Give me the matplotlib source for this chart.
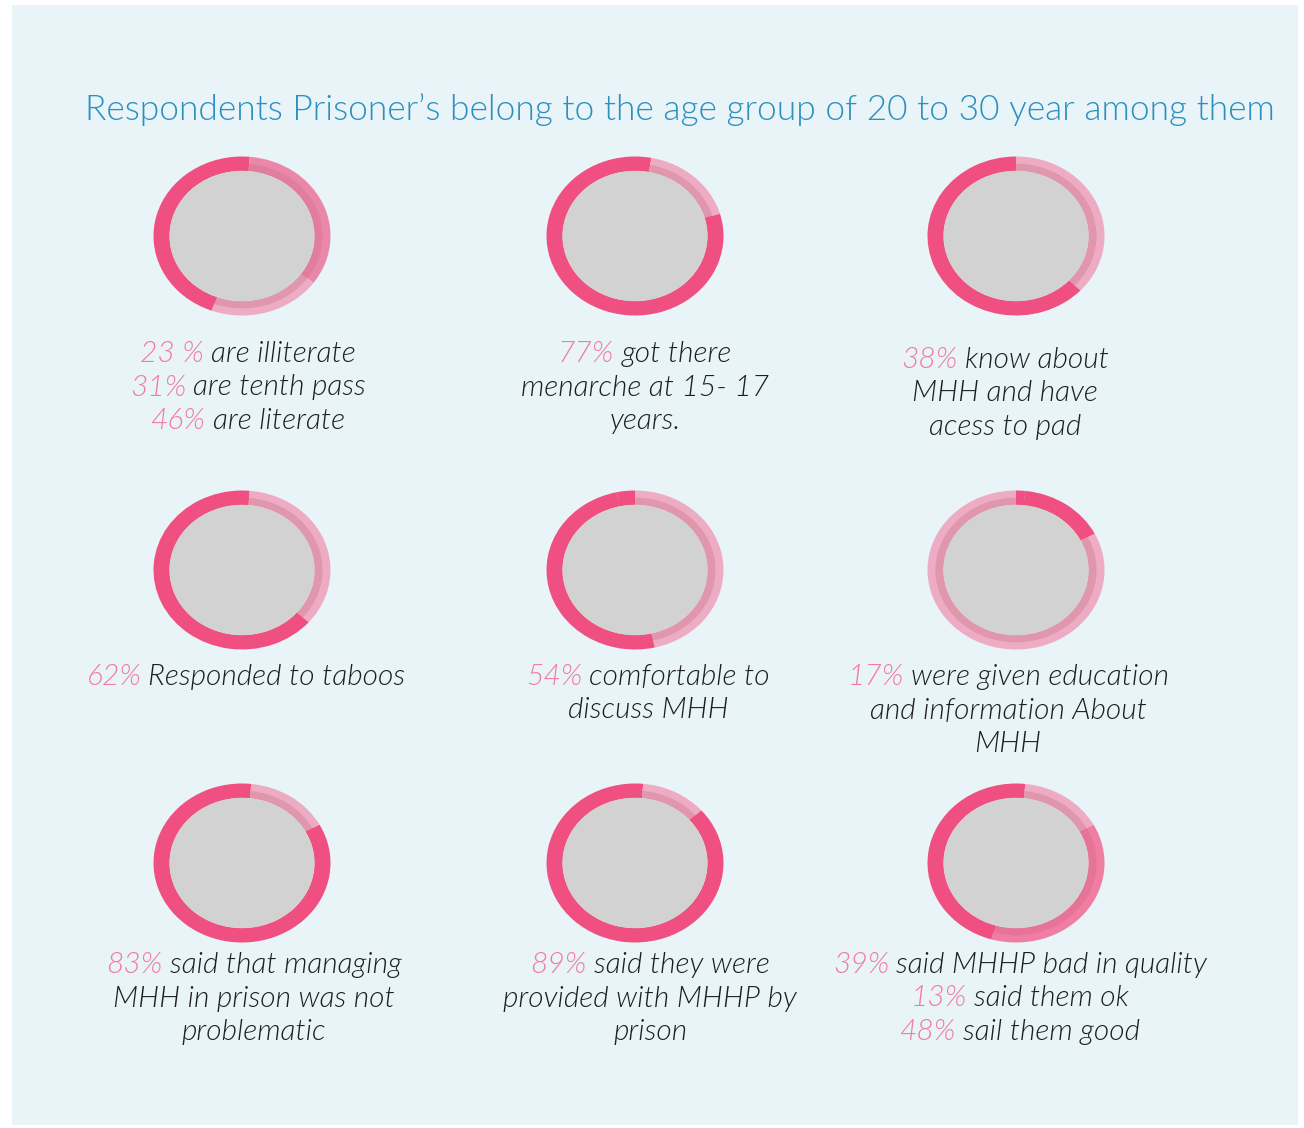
import matplotlib
matplotlib.use("Agg")
import matplotlib.pyplot as plt
from matplotlib.patches import Rectangle, Circle

# slice values, clockwise from 12 o'clock, and the tone of each slice
d1_vals = [1.4, 33.6, 20.6, 44.4]
d1_tone = ["dark", "mid", "light", "dark"]
d2_vals = [3.0, 17.5, 79.5]
d2_tone = ["dark", "light", "dark"]
d3_vals = [37.0, 63.0]
d3_tone = ["light", "dark"]
d4_vals = [1.4, 35.0, 63.6]
d4_tone = ["dark", "light", "dark"]
d5_vals = [46.4, 50.3, 3.3]
d5_tone = ["light", "dark", "dark"]
d6_vals = [1.7, 15.8, 82.5]
d6_tone = ["dark", "dark", "light"]
d7_vals = [1.7, 15.3, 83.0]
d7_tone = ["dark", "light", "dark"]
d8_vals = [1.5, 12.0, 86.5]
d8_tone = ["dark", "light", "dark"]
d9_vals = [1.7, 15.3, 37.5, 45.5]
d9_tone = ["dark", "light", "mid2", "dark"]

all_vals = [d1_vals, d2_vals, d3_vals, d4_vals, d5_vals, d6_vals, d7_vals, d8_vals, d9_vals]
all_tone = [d1_tone, d2_tone, d3_tone, d4_tone, d5_tone, d6_tone, d7_tone, d8_tone, d9_tone]

# caption lines: (pink part, dark part)
captions = [
    [("23 %", "are illiterate"), ("31%", "are tenth pass"), ("46%", "are literate")],
    [("77%", "got there"), ("", "menarche at 15- 17"), ("", "years.")],
    [("38%", "know about"), ("", "MHH and have"), ("", "acess to pad")],
    [("62%", "Responded to taboos")],
    [("54%", "comfortable to"), ("", "discuss MHH")],
    [("17%", "were given education"), ("", "and information About"), ("", "MHH")],
    [("83%", "said that managing"), ("", "MHH in prison was not"), ("", "problematic")],
    [("89%", "said they were"), ("", "provided with MHHP by"), ("", "prison")],
    [("39%", "said MHHP bad in quality"), ("13%", "said them ok"), ("48%", "sail them good")],
]

title = "Respondents Prisoner\u2019s belong to the age group of 20 to 30 year among them"

outer_col = {"dark": "#f05081", "mid": "#eb88aa", "mid2": "#ef7ea2", "light": "#eeabc4"}
inner_col = {"dark": "#f05081", "mid": "#e17e9f", "mid2": "#e67498", "light": "#e097ae"}

W, H = 1304, 1128
fig = plt.figure(figsize=(W / 100, H / 100), dpi=100, facecolor="white")
fig.patches.append(Rectangle((12 / W, 3 / H), 1286 / W, 1120 / H, transform=fig.transFigure,
                             facecolor="#e8f4f8", edgecolor="none", zorder=-5))

fig.text(680 / W, 1 - 110 / H, title, ha="center", va="center", color="#2b8fc0",
         fontsize=25.4, family="Lato", fontweight=300)

col_x = [242, 635, 1016]
row_y = [236, 570, 863]
dw, dh = 177, 159

for i, (vals, tone) in enumerate(zip(all_vals, all_tone)):
    cx, cy = col_x[i % 3], row_y[i // 3]
    ax = fig.add_axes([(cx - dw / 2) / W, 1 - (cy + dh / 2) / H, dw / W, dh / H])
    ax.pie(vals, colors=[outer_col[t] for t in tone], radius=1.0, startangle=90,
           counterclock=False, wedgeprops=dict(width=0.18, linewidth=0))
    ax.pie(vals, colors=[inner_col[t] for t in tone], radius=0.91, startangle=90,
           counterclock=False, wedgeprops=dict(width=0.09, linewidth=0))
    ax.add_patch(Circle((0, 0), 0.82, color="#d3d2d3", lw=0))
    ax.set_aspect("auto")
    ax.set_xlim(-1, 1)
    ax.set_ylim(-1, 1)
    ax.axis("off")

# caption placement
cap_x = [248, 645, 1005, 246, 648, 1008, 254, 650, 1020]
cap_y = [354, 354, 360, 677, 677, 677, 965, 965, 965]
line_h = 33.5
fs = 21.5
font = dict(family="Lato", style="italic", fontweight=300, fontsize=fs, va="center")
renderer = fig.canvas.get_renderer()
gap = 7

for i, lines in enumerate(captions):
    for j, (pink, dark) in enumerate(lines):
        y = 1 - (cap_y[i] + j * line_h) / H
        t2 = fig.text(0, y, dark, color="#1e1e1e", ha="left", **font)
        w2 = t2.get_window_extent(renderer).width
        if pink:
            t1 = fig.text(0, y, pink, color="#f27aa3", ha="left", **font)
            w1 = t1.get_window_extent(renderer).width
            left = cap_x[i] - (w1 + gap + w2) / 2
            t1.set_x(left / W)
            t2.set_x((left + w1 + gap) / W)
        else:
            t2.set_x((cap_x[i] - w2 / 2) / W)

fig.savefig("out.png", dpi=100, facecolor="white")
